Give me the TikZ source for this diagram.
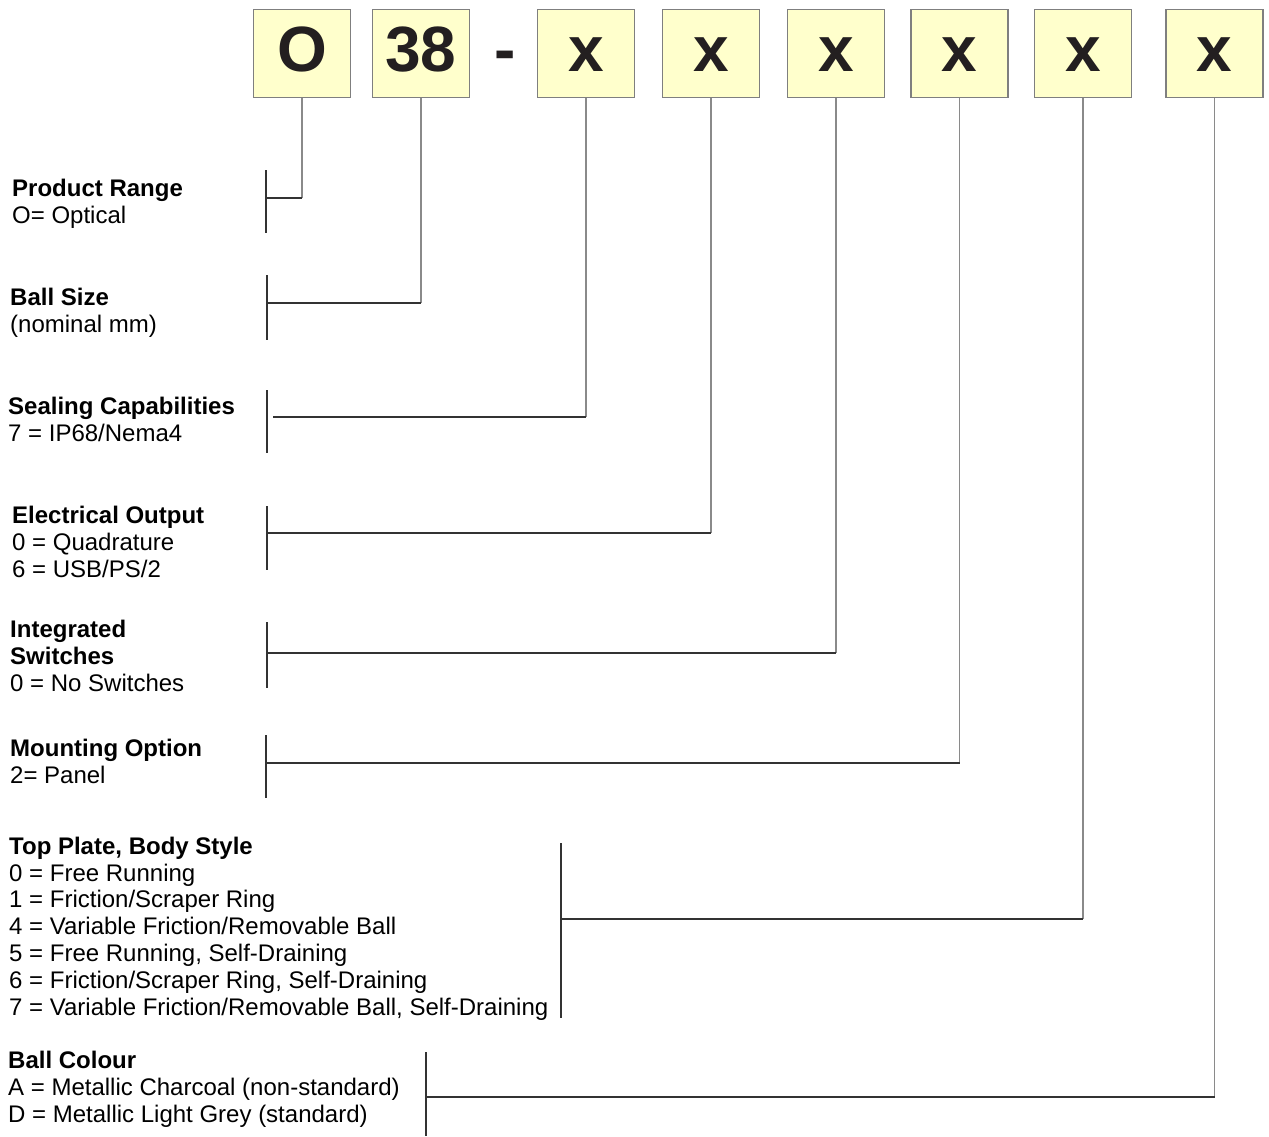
\documentclass[tikz,border=0pt]{standalone}
\usepackage{fontspec}
\setmainfont{Liberation Sans}
\definecolor{boxfill}{HTML}{FFFFCC}
\definecolor{boxline}{HTML}{7F7F7F}
\definecolor{stemgray}{HTML}{8A8A8A}
\definecolor{leadgray}{HTML}{333333}
\definecolor{inkblack}{HTML}{231F20}
\tikzset{
  codebox/.style={draw=boxline, fill=boxfill, line width=1.5pt,
    minimum width=97pt, minimum height=88pt, inner sep=0pt,
    text=inkblack, font=\fontsize{64}{64}\selectfont\bfseries,
    text height=46pt, text depth=11pt},
  codedash/.style={inner sep=0pt, text=inkblack,
    font=\fontsize{64}{64}\selectfont\bfseries,
    text height=46pt, text depth=11pt},
  keytext/.style={anchor=base west, inner sep=0pt, align=left,
    font=\fontsize{24}{26.8}\selectfont},
  stemln/.style={draw=stemgray, line width=1.5pt},
  leadln/.style={draw=leadgray, line width=1.5pt},
  bracketln/.style={draw=leadgray, line width=1.5pt},
}
\begin{document}
\begin{tikzpicture}[x=1pt,y=-1pt]
\useasboundingbox (0,0) rectangle (1269,1136);

% part number boxes
\node[codebox] (bRange) at (302,53.5) {O};
\node[codebox] (bSize) at (421,53.5) {38};
\node[codedash] (dash) at (505,53.5) {-};
\node[codebox] (bSeal) at (586,53.5) {x};
\node[codebox] (bOutput) at (711,53.5) {x};
\node[codebox] (bSwitch) at (836,53.5) {x};
\node[codebox] (bMount) at (959.5,53.5) {x};
\node[codebox] (bPlate) at (1083,53.5) {x};
\node[codebox] (bColour) at (1214.5,53.5) {x};

% option keys (placed at the baseline of their last line)
\node[keytext] (lbRange) at (12,223) {\textbf{Product Range}\\O= Optical};
\node[keytext] (lbSize) at (10,332) {\textbf{Ball Size}\\(nominal mm)};
\node[keytext] (lbSeal) at (8,441) {\textbf{Sealing Capabilities}\\7 = IP68/Nema4};
\node[keytext] (lbOutput) at (12,577) {\textbf{Electrical Output}\\0 = Quadrature\\6 = USB/PS/2};
\node[keytext] (lbSwitch) at (10,691) {\textbf{Integrated}\\\textbf{Switches}\\0 = No Switches};
\node[keytext] (lbMount) at (10,783) {\textbf{Mounting Option}\\2= Panel};
\node[keytext] (lbPlate) at (9,1015) {\textbf{Top Plate, Body Style}\\0 = Free Running\\1 = Friction/Scraper Ring\\4 = Variable Friction/Removable Ball\\5 = Free Running, Self-Draining\\6 = Friction/Scraper Ring, Self-Draining\\7 = Variable Friction/Removable Ball, Self-Draining};
\node[keytext] (lbColour) at (8,1122) {\textbf{Ball Colour}\\A = Metallic Charcoal (non-standard)\\D = Metallic Light Grey (standard)};

% brackets and leaders
\foreach \b/\bx/\ya/\yb/\jx/\jy in {bRange/266/170/233/266/198,
    bSize/267/275/340/267/303, bSeal/267/390/453/273/417,
    bOutput/267/506/570/267/533, bSwitch/267/622/688/267/653,
    bMount/266/735/798/266/763, bPlate/561/843/1018/561/919,
    bColour/426/1052/1136/426/1097}{
  \draw[bracketln] (\bx,\ya) -- (\bx,\yb);
  \coordinate (j) at (\jx,\jy);
  \draw[stemln] (\b.south) -- (\b.south |- j);
  \draw[leadln] (\b.south |- j) -- (j);
}

\end{tikzpicture}
\end{document}
